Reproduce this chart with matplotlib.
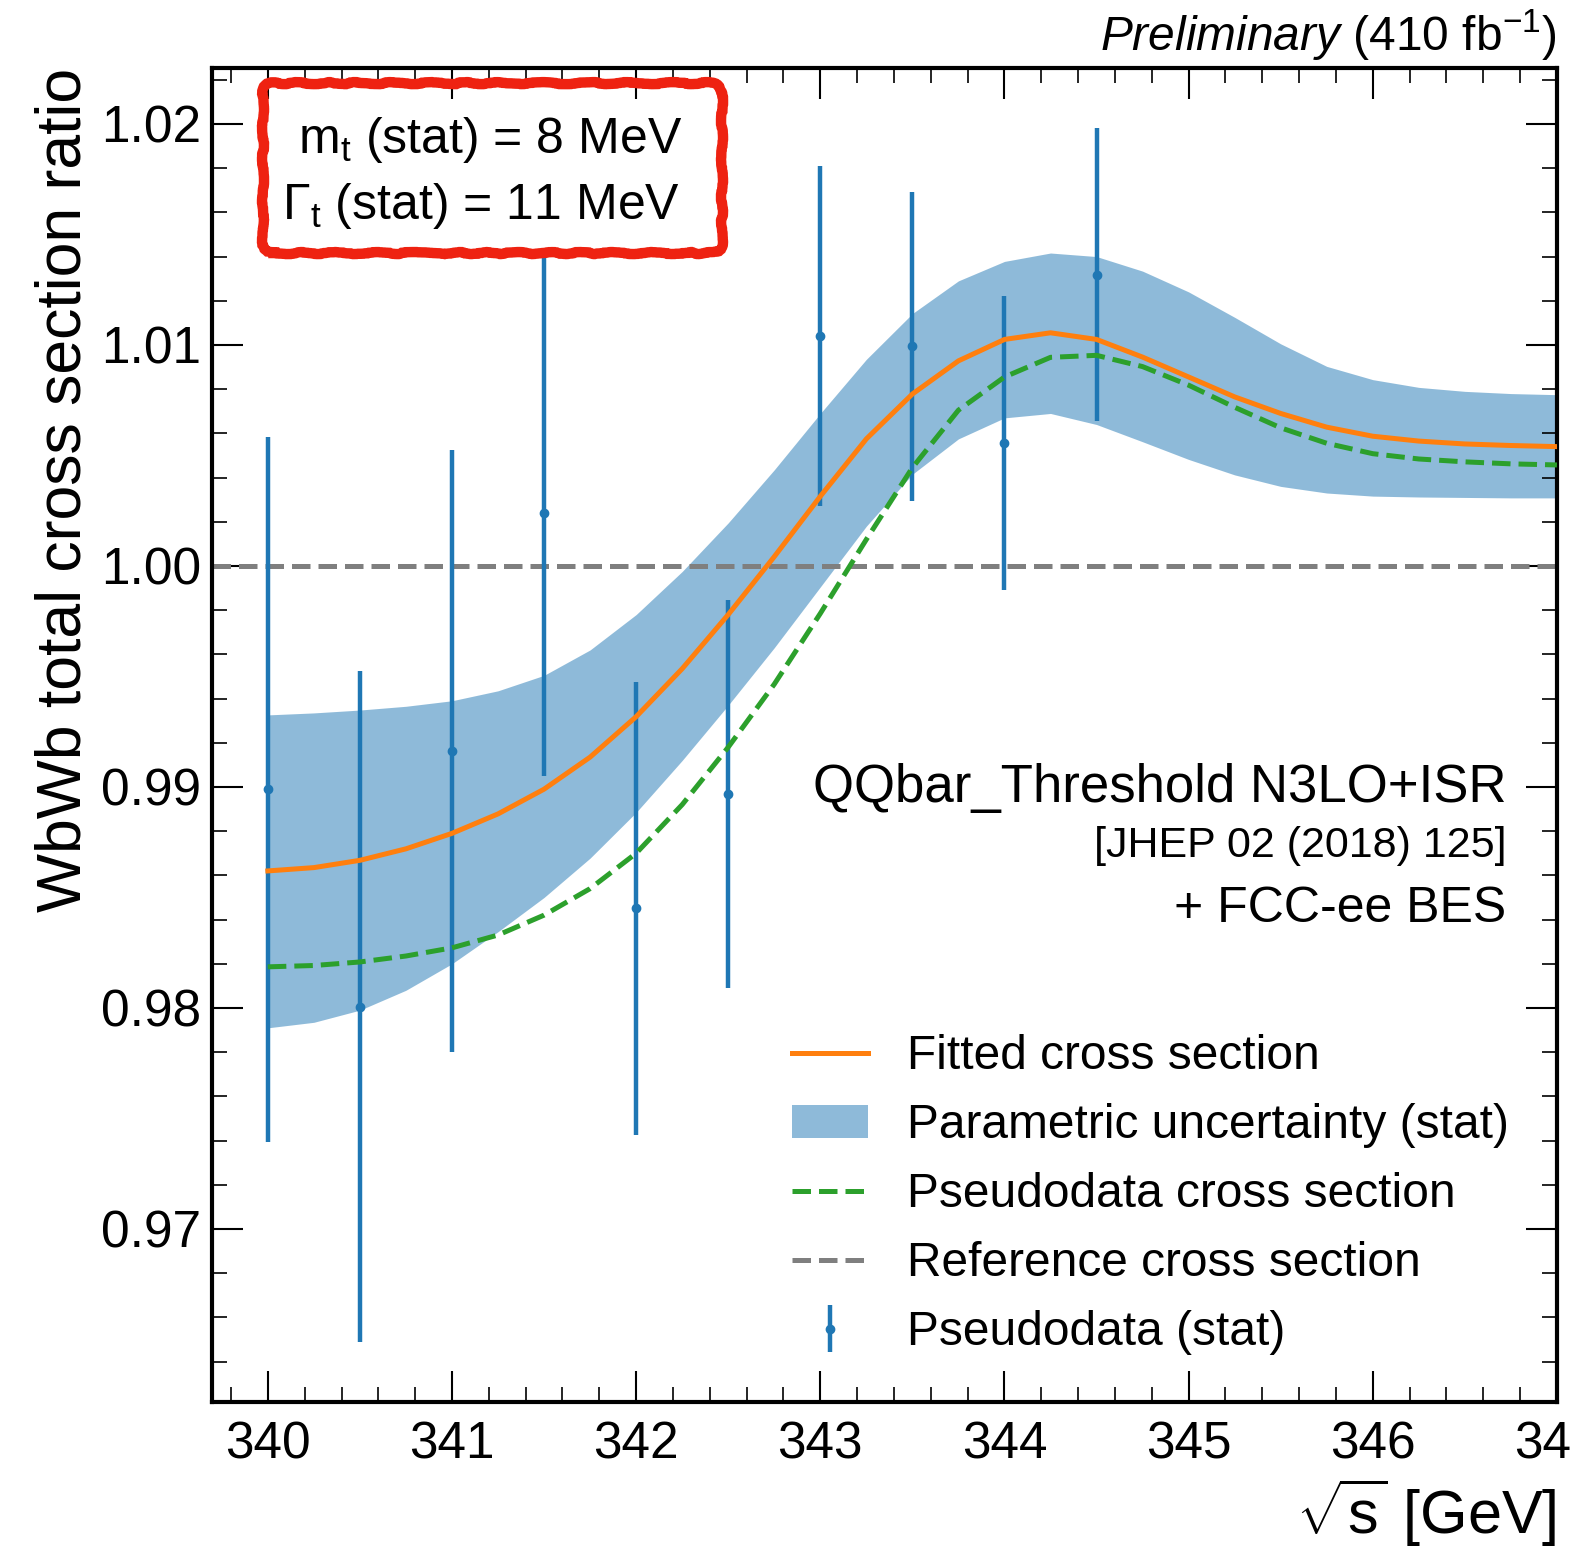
import numpy as np
import matplotlib
matplotlib.use("Agg")
import matplotlib.pyplot as plt
from matplotlib.patches import FancyBboxPatch, Patch
from matplotlib.lines import Line2D
from matplotlib.ticker import MultipleLocator, FormatStrFormatter

plt.rcParams['font.family'] = ['Liberation Sans', 'DejaVu Sans']
plt.rcParams['mathtext.fontset'] = 'custom'
plt.rcParams['mathtext.rm'] = 'Liberation Sans'
plt.rcParams['mathtext.it'] = 'Liberation Sans:italic'
plt.rcParams['mathtext.bf'] = 'Liberation Sans:bold'

# pseudodata points
sqrt_s = [340.0, 340.5, 341.0, 341.5, 342.0, 342.5, 343.0, 343.5, 344.0, 344.5]
ratio = [0.98990, 0.98005, 0.99162, 1.00240, 0.98452, 0.98968, 1.01041, 1.00995, 1.00557, 1.01317]
ratio_err = [0.01595, 0.01518, 0.01362, 0.01190, 0.01025, 0.00880, 0.00771, 0.00699, 0.00665, 0.00663]

# curves (0.25 GeV steps)
energy = [340.0, 340.25, 340.5, 340.75, 341.0, 341.25, 341.5, 341.75, 342.0, 342.25,
          342.5, 342.75, 343.0, 343.25, 343.5, 343.75, 344.0, 344.25, 344.5, 344.75,
          345.0, 345.25, 345.5, 345.75, 346.0, 346.25, 346.5, 346.75, 347.0]
fitted = [0.98620, 0.98635, 0.98668, 0.98720, 0.98790, 0.98878, 0.98990, 0.99135, 0.99318, 0.99535,
          0.99780, 1.00042, 1.00315, 1.00575, 1.00778, 1.00928, 1.01025, 1.01055, 1.01025, 1.00945,
          1.00855, 1.00765, 1.00690, 1.00628, 1.00587, 1.00565, 1.00552, 1.00545, 1.00540]
pseudo = [0.98186, 0.98192, 0.98208, 0.98235, 0.98272, 0.98330, 0.98420, 0.98540, 0.98700, 0.98920,
          0.99180, 0.99465, 0.99785, 1.00120, 1.00445, 1.00705, 1.00855, 1.00944, 1.00953, 1.00902,
          1.00818, 1.00718, 1.00625, 1.00555, 1.00508, 1.00484, 1.00471, 1.00462, 1.00457]
band_hi = [0.99326, 0.99335, 0.99348, 0.99365, 0.99390, 0.99435, 0.99505, 0.99620, 0.99780, 0.99975,
           1.00195, 1.00435, 1.00690, 1.00935, 1.01142, 1.01290, 1.01378, 1.01416, 1.01400, 1.01334,
           1.01240, 1.01125, 1.01005, 1.00903, 1.00843, 1.00808, 1.00790, 1.00780, 1.00775]
band_lo = [0.97910, 0.97935, 0.97990, 0.98080, 0.98200, 0.98345, 0.98500, 0.98678, 0.98885, 0.99120,
           0.99370, 0.99630, 0.99905, 1.00180, 1.00415, 1.00575, 1.00670, 1.00690, 1.00640, 1.00562,
           1.00482, 1.00412, 1.00360, 1.00330, 1.00316, 1.00312, 1.00310, 1.00308, 1.00308]

fig = plt.figure(figsize=(15.73, 15.5), dpi=100)
ax = fig.add_axes([0.1348, 0.0955, 0.855, 0.8606])

ax.fill_between(energy, band_lo, band_hi, color='tab:blue', alpha=0.5, lw=0, zorder=1)
ax.axhline(1.0, color='tab:gray', ls='--', lw=3.6, zorder=2)
eb = ax.errorbar(sqrt_s, ratio, yerr=ratio_err, fmt='o', color='tab:blue',
                 ms=6, elinewidth=3.2, capsize=0, zorder=3)
ax.plot(energy, fitted, color='tab:orange', lw=3.6, zorder=4)
ax.plot(energy, pseudo, color='tab:green', ls='--', lw=3.6, zorder=4)

ax.set_xlim(339.697, 347.0)
ax.set_ylim(0.96217, 1.02253)

ax.xaxis.set_major_locator(MultipleLocator(1))
ax.xaxis.set_minor_locator(MultipleLocator(0.2))
ax.yaxis.set_major_locator(MultipleLocator(0.01))
ax.yaxis.set_minor_locator(MultipleLocator(0.002))
ax.yaxis.set_major_formatter(FormatStrFormatter('%.2f'))
ax.tick_params(which='both', direction='in', top=True, right=True)
ax.tick_params(which='major', length=22, width=1.5, labelsize=37)
ax.tick_params(which='minor', length=11, width=1.2)
ax.tick_params(axis='x', which='major', pad=13)
ax.tick_params(axis='y', which='major', pad=8)
for sp in ax.spines.values():
    sp.set_linewidth(3)

ax.set_xlabel(r'$\sqrt{\mathrm{s}}$ [GeV]', fontsize=44, loc='right', labelpad=5)
ax.set_ylabel('WbWb total cross section ratio', fontsize=45, loc='top', labelpad=5)

ax.text(1.0, 1.0035, r'$\mathit{Preliminary}$ (410 fb$^{-1}$)', transform=ax.transAxes,
        ha='right', va='bottom', fontsize=34.5)

# box with fit result
box = FancyBboxPatch((0.0379, 0.8613), 0.3413, 0.1274,
                     boxstyle='round,pad=0,rounding_size=0.008',
                     transform=ax.transAxes, ec='#ee2211', fc='none', lw=7.5,
                     zorder=6, clip_on=False)
box.set_sketch_params(scale=1.0, length=80, randomness=10)
ax.add_patch(box)
ax.text(0.2067, 0.9363, r'm$_{\mathrm{t}}$ (stat) = 8 MeV', transform=ax.transAxes,
        ha='center', va='baseline', fontsize=36, zorder=7)
ax.text(0.2000, 0.8868, r'$\Gamma_{\mathrm{t}}$ (stat) = 11 MeV', transform=ax.transAxes,
        ha='center', va='baseline', fontsize=36, zorder=7)

ax.text(0.9625, 0.4498, 'QQbar_Threshold N3LO+ISR', transform=ax.transAxes,
        ha='right', va='baseline', fontsize=38)
ax.text(0.9625, 0.4085, '[JHEP 02 (2018) 125]', transform=ax.transAxes,
        ha='right', va='baseline', fontsize=31)
ax.text(0.9625, 0.3598, '+ FCC-ee BES', transform=ax.transAxes,
        ha='right', va='baseline', fontsize=36)

handles = [Line2D([], [], color='tab:orange', lw=3.6),
           Patch(color='tab:blue', alpha=0.5, lw=0),
           Line2D([], [], color='tab:green', ls='--', lw=3.6),
           Line2D([], [], color='tab:gray', ls='--', lw=3.6),
           eb]
labels = ['Fitted cross section', 'Parametric uncertainty (stat)',
          'Pseudodata cross section', 'Reference cross section', 'Pseudodata (stat)']
ax.legend(handles, labels, loc='lower left', bbox_to_anchor=(0.431, 0.035),
          frameon=False, fontsize=34.5, borderpad=0, borderaxespad=0,
          handlelength=1.6, handletextpad=0.8, labelspacing=0.5)

fig.savefig('out.png', dpi=100)
